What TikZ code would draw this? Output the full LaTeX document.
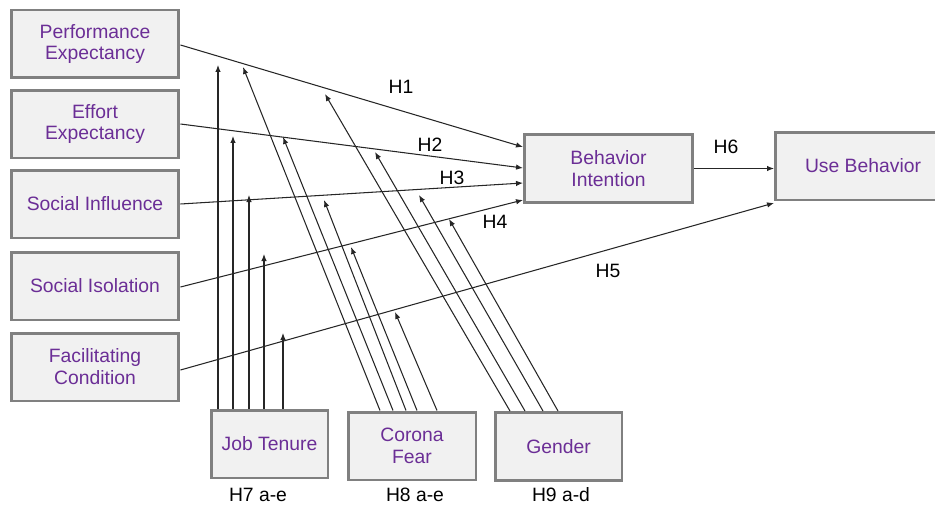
\documentclass[tikz,border=0pt]{standalone}
\usepackage{fontspec}
\setmainfont{Liberation Sans}
\usepackage{tikz}
\usetikzlibrary{arrows.meta,positioning}
\definecolor{boxfill}{HTML}{F1F1F1}
\definecolor{boxline}{HTML}{808080}
\definecolor{txtpurple}{HTML}{6B2E96}

\tikzset{
  varbox/.style={draw=boxline,line width=1.7pt,fill=boxfill,text=txtpurple,align=center,
    minimum width=3.36cm,minimum height=1.36cm,font=\fontsize{11}{12.5}\selectfont},
  path/.style={-{Latex[length=1.4mm,width=1.1mm]},draw=black!85,line width=0.6pt},
  hyp/.style={font=\fontsize{11}{13}\selectfont}
}

\begin{document}
\begin{tikzpicture}[x=0.02cm,y=-0.02cm]
      \useasboundingbox (0,0) rectangle (935,510);
      \node[varbox] (pe) at (95,44) {Performance\\Expectancy};
      \node[varbox] (ee) at (95,124) {Effort\\Expectancy};
      \node[varbox] (si) at (95,204) {Social Influence};
      \node[varbox] (iso) at (95,286) {Social Isolation};
      \node[varbox] (fc) at (95,367) {Facilitating\\Condition};
      \node[varbox] (bi) at (608.5,168.5) {Behavior\\Intention};
      \node[varbox,minimum width=3.5cm] (ub) at (863,166) {Use Behavior};
      \node[varbox,minimum width=2.34cm] (jt) at (269.5,444) {Job Tenure};
      \node[varbox,minimum width=2.56cm] (cf) at (412,446) {Corona\\Fear};
      \node[varbox,minimum width=2.54cm] (gd) at (558.5,446.5) {Gender};
      \draw[path] (pe.east |- 0,45) -- (bi.west |- 0,147);
      \draw[path] (ee.east |- 0,124) -- (bi.west |- 0,168);
      \draw[path] (si.east |- 0,204) -- (bi.west |- 0,183);
      \draw[path] (iso.east |- 0,287) -- (bi.west |- 0,200);
      \draw[path] (fc.east |- 0,370) -- (ub.west |- 0,203);
      \draw[path] (bi.east) -- (ub.west |- bi.east);
      \node[hyp] (h1) at (401,87) {H1};
      \node[hyp] (h2) at (430,145) {H2};
      \node[hyp] (h3) at (452,178) {H3};
      \node[hyp] (h4) at (495,222) {H4};
      \node[hyp] (h5) at (608,271) {H5};
      \node[hyp] (h6) at (726,147) {H6};
      \node[hyp] (h7) at (258,495) {H7 a-e};
      \node[hyp] (h8) at (415,495) {H8 a-e};
      \node[hyp] (h9) at (561,495) {H9 a-d};
      \foreach \x/\y [count=\i] in {218/65,233/136,249/195,264/254,283/333} {
        \coordinate (jt\i) at (\x,\y);
        \draw[path] (jt.north -| jt\i) -- (jt\i);
      }
      \foreach \s/\x/\y [count=\i] in {380/243/67,393/283/137,406/324/200,417/351/247,437/395/312} {
        \coordinate (cf\i) at (\x,\y);
        \draw[path] (cf.north -| \s,0) -- (cf\i);
      }
      \foreach \s/\x/\y [count=\i] in {510/325/94,525/375/152,543/419/195,558/449/219} {
        \coordinate (gd\i) at (\x,\y);
        \draw[path] (gd.north -| \s,0) -- (gd\i);
      }
   \end{tikzpicture}
\end{document}
